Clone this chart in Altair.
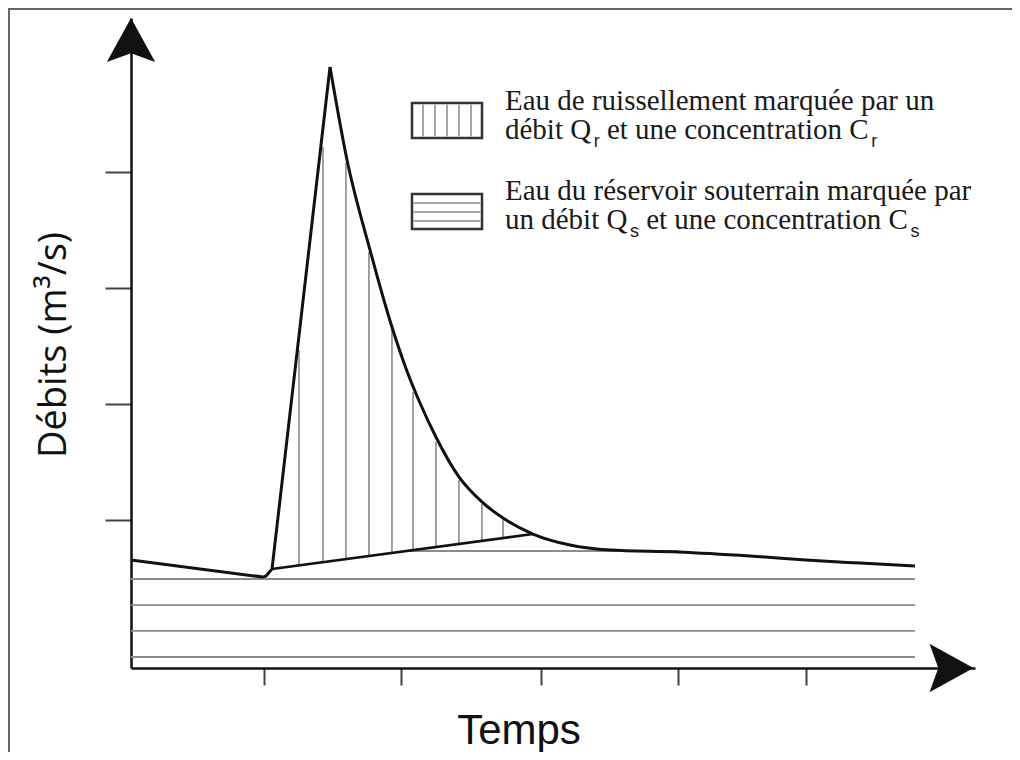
import altair as alt
import pandas as pd
import numpy as np

# ---------------- data (time units / discharge units) ----------------
rise_t = [0.000, 0.970, 0.992, 1.036, 1.462]
rise_q = [0.933, 0.786, 0.795, 0.856, 5.194]
fall_t = [1.462, 1.587, 1.756, 1.917, 2.027, 2.123, 2.240, 2.409, 2.578, 2.733, 2.953,
          3.225, 3.519, 4.018, 4.547, 4.958, 5.355, 5.759]
fall_q = [5.194, 4.390, 3.612, 2.947, 2.567, 2.290, 1.996, 1.651, 1.435, 1.296, 1.158,
          1.063, 1.020, 1.003, 0.968, 0.933, 0.907, 0.882]
sep_t = [1.036, 2.953]
sep_q = [0.856, 1.158]
runoff_hatch_t = [1.234, 1.410, 1.579, 1.748, 1.917, 2.072, 2.240, 2.409, 2.578, 2.733]
runoff_hatch_top = [2.748, 4.503, 4.364, 3.595, 2.938, 2.385, 1.953, 1.625, 1.417, 1.288]
base_hatch_q = [0.095, 0.320, 0.544, 0.769, 1.011]
base_hatch_t0 = [0.0, 0.0, 0.0, 0.0, 2.02]
base_hatch_t1 = [5.759, 5.759, 5.759, 5.759, 4.02]
x_tick_values = [0.98, 1.98, 3.01, 4.02, 4.96]
y_tick_values = [1.279, 2.281, 3.284, 4.287]

legend_line1 = "Eau de ruissellement marquée par un"
legend_line2 = ["débit Q", "r", "et une concentration C", "r"]
legend_line3 = "Eau du réservoir souterrain marquée par"
legend_line4 = ["un débit Q", "s", "et une concentration C", "s"]
x_title = "Temps"
y_title = "Débits (m³/s)"

# ---------------- tables ----------------
rise_df = pd.DataFrame({"t": rise_t, "q": rise_q, "o": range(len(rise_t))})
fall_df = pd.DataFrame({"t": fall_t, "q": fall_q, "o": range(len(fall_t))})
sep_df = pd.DataFrame({"t": sep_t, "q": sep_q, "o": range(len(sep_t))})
rh_df = pd.DataFrame({
    "t": runoff_hatch_t,
    "top": runoff_hatch_top,
    "bottom": np.interp(runoff_hatch_t, sep_t, sep_q),
})
bh_df = pd.DataFrame({"q": base_hatch_q, "t0": base_hatch_t0, "t1": base_hatch_t1})
one = pd.DataFrame({"a": [0]})

W, H = 844, 650
xs = alt.Scale(domain=[0, 6.2], nice=False, zero=False)
ys = alt.Scale(domain=[0, 5.6175], nice=False, zero=False)
TICK = "#4a4036"
x_axis = alt.Axis(values=x_tick_values, tickSize=17, tickWidth=2, tickColor=TICK,
                  domainColor="#111111", domainWidth=2.5, labels=False, title=None, grid=False)
y_axis = alt.Axis(values=y_tick_values, tickSize=26, tickWidth=2, tickColor=TICK,
                  domainColor="#111111", domainWidth=2.5, labels=False, title=None, grid=False)

layers = []

# frame (top & left edges of the figure)
layers.append(alt.Chart(one).mark_rule(color="#666666", strokeWidth=2).encode(
    x=alt.value(-122), y=alt.value(-10), y2=alt.value(H + 84)))
layers.append(alt.Chart(one).mark_rule(color="#666666", strokeWidth=2).encode(
    x=alt.value(-123), x2=alt.value(W + 37), y=alt.value(-9)))

# base-flow hatching (horizontal lines)
layers.append(alt.Chart(bh_df).mark_rule(color="#8c8c8c", strokeWidth=1.8).encode(
    x=alt.X("t0:Q", scale=xs, axis=x_axis), x2="t1:Q",
    y=alt.Y("q:Q", scale=ys, axis=y_axis)))

# runoff hatching (vertical lines)
layers.append(alt.Chart(rh_df).mark_rule(color="#8a8a8a", strokeWidth=1.6).encode(
    x=alt.X("t:Q", scale=xs, axis=x_axis),
    y=alt.Y("top:Q", scale=ys, axis=y_axis), y2="bottom:Q"))

# separation line
layers.append(alt.Chart(sep_df).mark_line(color="#111111", strokeWidth=2.6).encode(
    x=alt.X("t:Q", scale=xs, axis=x_axis), y=alt.Y("q:Q", scale=ys, axis=y_axis), order="o:Q"))

# hydrograph: rising limb (straight) and recession (smooth)
layers.append(alt.Chart(rise_df).mark_line(color="#111111", strokeWidth=3, strokeJoin="miter",
                                           strokeMiterLimit=20).encode(
    x=alt.X("t:Q", scale=xs, axis=x_axis), y=alt.Y("q:Q", scale=ys, axis=y_axis), order="o:Q"))
layers.append(alt.Chart(fall_df).mark_line(color="#111111", strokeWidth=3, interpolate="monotone",
                                           strokeJoin="miter", strokeMiterLimit=20).encode(
    x=alt.X("t:Q", scale=xs, axis=x_axis), y=alt.Y("q:Q", scale=ys, axis=y_axis), order="o:Q"))

# arrow heads
ARROW = "M0,-1L1.1,1L0,0.6L-1.1,1Z"
layers.append(alt.Chart(one).mark_point(shape=ARROW, size=1936, filled=True, color="#111111",
                                        opacity=1, strokeWidth=0).encode(
    x=alt.value(0), y=alt.value(22)))
layers.append(alt.Chart(one).mark_point(shape=ARROW, size=1936, filled=True, color="#111111",
                                        opacity=1, strokeWidth=0, angle=90).encode(
    x=alt.value(W - 23.5), y=alt.value(H)))

# legend symbols
BX0, BX1 = 281, 351
for (y0, y1) in [(85, 120), (176, 211)]:
    layers.append(alt.Chart(one).mark_rect(fill="white", stroke="#333333", strokeWidth=2.5).encode(
        x=alt.value(BX0), x2=alt.value(BX1), y=alt.value(y0), y2=alt.value(y1)))
for xv in [292, 304, 316, 328, 340]:
    layers.append(alt.Chart(one).mark_rule(color="#8a8a8a", strokeWidth=1.5).encode(
        x=alt.value(xv), y=alt.value(86.5), y2=alt.value(118.5)))
for yv in [185, 194, 203]:
    layers.append(alt.Chart(one).mark_rule(color="#8a8a8a", strokeWidth=1.5).encode(
        x=alt.value(BX0 + 1.5), x2=alt.value(BX1 - 1.5), y=alt.value(yv)))

# legend text
SERIF = "Liberation Serif"
FS = 29
SUB_FS = 18
TW = {" ": 250, "a": 444, "b": 500, "c": 444, "d": 500, "e": 444, "é": 444,
      "i": 278, "l": 278, "m": 778, "n": 500, "o": 500, "p": 500, "q": 500, "r": 333, "s": 389,
      "t": 278, "u": 500, "v": 500, "E": 611, "Q": 722, "C": 667}
SW = {"r": 333, "s": 500}


def tw(s, size):
    return sum(TW.get(c, 500) for c in s) * size / 1000.0


def text_layer(txt, x, y, size=FS, font=SERIF, **kw):
    return alt.Chart(one).mark_text(text=txt, font=font, fontSize=size, align="left",
                                    baseline="alphabetic", color="#1a1a1a", **kw).encode(
        x=alt.value(x), y=alt.value(y))


TX = 374
layers.append(text_layer(legend_line1, TX, 92))
layers.append(text_layer(legend_line3, TX, 182))
for parts, base in [(legend_line2, 121), (legend_line4, 211)]:
    x = TX
    for i, p in enumerate(parts):
        if i % 2 == 0:
            if i > 0:
                x += tw(" ", FS)  # word space after the subscript
            layers.append(text_layer(p, x, base))
            x += tw(p, FS) + 2.5
        else:
            layers.append(text_layer(p, x, base + 8, size=SUB_FS, font="Liberation Sans"))
            x += SW[p] * SUB_FS / 1000.0

# axis titles
layers.append(alt.Chart(one).mark_text(text=x_title, font="Liberation Sans",
                                       fontSize=42, align="center", baseline="alphabetic",
                                       color="#111111").encode(x=alt.value(388), y=alt.value(726)))
layers.append(alt.Chart(one).mark_text(text=y_title, font="Open Sans", fontSize=38, angle=270,
                                       align="center", baseline="alphabetic",
                                       color="#111111").encode(x=alt.value(-65), y=alt.value(327)))

chart = alt.layer(*layers).properties(
    width=W, height=H,
    padding={"left": 123, "top": 10, "right": 37, "bottom": 84},
    autosize=alt.AutoSizeParams(type="none"),
    background="white",
).configure_view(strokeWidth=0)

chart.save("out.html", embed_options={"renderer": "svg", "actions": False})
